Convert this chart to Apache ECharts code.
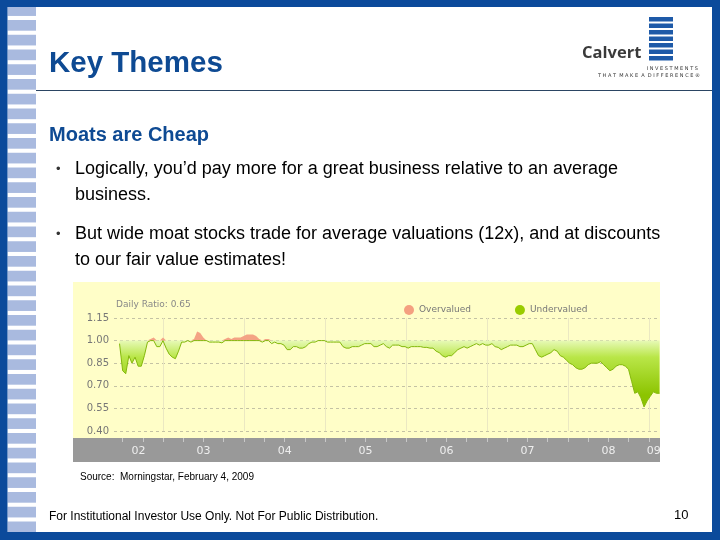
<!DOCTYPE html>
<html>
<head>
<meta charset="utf-8">
<script src="https://cdn.jsdelivr.net/npm/echarts@6/dist/echarts.min.js"></script>
<style>html,body{margin:0;padding:0;background:#fff}#c{width:720px;height:540px}</style>
</head>
<body>
<div id="c"></div>
<script>
// ---- data ----
const seriesStartUTC = Date.UTC(2002, 5, 18);   // first observation
const stepDays = 14;                            // bi-weekly readings
const ratio = [
 0.98,0.80,0.78,0.90,0.85,0.89,0.83,0.83,0.90,0.99,
 1.01,1.02,0.96,0.96,1.02,0.95,0.91,0.89,0.88,0.93,
 0.99,0.99,1.00,0.99,1.01,1.06,1.05,1.02,1.00,0.99,
 0.99,0.99,0.99,0.985,1.01,1.02,1.01,1.02,1.02,1.02,
 1.03,1.04,1.04,1.04,1.03,1.01,0.99,1.01,1.01,0.98,
 0.99,0.98,0.98,0.97,0.94,0.94,0.96,0.96,0.95,0.95,
 0.96,0.98,0.99,0.99,1.00,1.00,1.00,0.99,0.99,0.99,
 0.99,0.99,0.96,0.95,0.95,0.96,0.96,0.96,0.97,0.98,
 0.98,0.98,0.96,0.96,0.97,0.98,0.96,0.95,0.97,0.97,
 0.97,0.96,0.96,0.95,0.96,0.96,0.96,0.96,0.955,0.955,
 0.95,0.95,0.93,0.92,0.90,0.89,0.90,0.90,0.92,0.94,
 0.95,0.96,0.95,0.96,0.97,0.98,0.97,0.98,0.97,0.97,
 0.98,0.96,0.955,0.94,0.95,0.96,0.97,0.97,0.97,0.96,
 0.96,0.97,0.98,0.98,0.94,0.90,0.89,0.90,0.91,0.92,
 0.94,0.93,0.90,0.89,0.87,0.85,0.84,0.82,0.81,0.81,
 0.82,0.84,0.85,0.85,0.85,0.86,0.84,0.82,0.80,0.81,
 0.83,0.84,0.84,0.83,0.81,0.73,0.65,0.66,0.62,0.56,
 0.60,0.63,0.66,0.65,0.65
];
const yTicks = { min: 0.40, max: 1.15, step: 0.15 };
const yearLabelPos = [[2002,8,12],[2003,6,2],[2004,6,2],[2005,6,2],[2006,6,2],[2007,6,2],[2008,6,2],[2009,0,22]];
const yearBounds = [2003,2004,2005,2006,2007,2008,2009];
const axisRange = [[2002,4,24],[2009,1,19]];
const legendNames = ['Overvalued','Undervalued'];

// ---- build ----
const DAY = 86400000;
const dates = ratio.map((_, i) => seriesStartUTC + i * stepDays * DAY);
const underData = ratio.map((v, i) => [dates[i], Math.min(v, 1)]);
const underDepth = ratio.map((v, i) => [dates[i], 1 - Math.min(v, 1)]);
const overBase = ratio.map((v, i) => [dates[i], 1]);
const overHeight = ratio.map((v, i) => [dates[i], Math.max(v, 1) - 1]);
const utc = a => Date.UTC(a[0], a[1], a[2]);
const xMin = utc(axisRange[0]), xMax = utc(axisRange[1]);
const quarterTicks = [];
for (let y = 2002; y <= 2009; y++) for (let m = 0; m < 12; m += 3) {
  const t = Date.UTC(y, m, 1); if (t >= xMin && t <= xMax) quarterTicks.push(t);
}

const BLUE = '#0b4a9b';
const g = [];
for (let k = -1; k < 36; k++) {
  g.push({type:'rect', z:1, shape:{x:7.5, y:20 + k*14.75, width:28.5, height:10.7}, style:{fill:'#a9badf'}});
}
g.push({type:'rect', z:50, shape:{x:0,y:0,width:720,height:7}, style:{fill:BLUE}});
g.push({type:'rect', z:50, shape:{x:0,y:0,width:7.5,height:540}, style:{fill:BLUE}});
g.push({type:'rect', z:50, shape:{x:712,y:0,width:8,height:540}, style:{fill:BLUE}});
g.push({type:'rect', z:50, shape:{x:0,y:532,width:720,height:8}, style:{fill:BLUE}});
g.push({type:'line', z:5, shape:{x1:36,y1:90.5,x2:712,y2:90.5}, style:{stroke:'#2b4563', lineWidth:1}});
g.push({type:'text', z:5, style:{text:'Key Themes', x:49, y:64, font:'bold 29.5px "Liberation Sans", Arial, sans-serif', fill:'#0e4a93', textVerticalAlign:'middle'}});
g.push({type:'text', z:5, style:{text:'Calvert', x:582, y:53, font:'bold 16.5px "Open Sans", sans-serif', fill:'#3a3a3a', textVerticalAlign:'middle'}});
for (let k = 0; k < 7; k++) {
  g.push({type:'rect', z:5, shape:{x:649, y:17 + k*6.5, width:24, height:4.5}, style:{fill:'#1e5aa8'}});
}
g.push({type:'text', z:5, style:{text:'I N V E S T M E N T S', x:698, y:69, font:'5px "DejaVu Sans", sans-serif', fill:'#333', textAlign:'right', textVerticalAlign:'middle'}});
g.push({type:'text', z:5, style:{text:'T H A T  M A K E  A  D I F F E R E N C E ®', x:700, y:76, font:'5px "DejaVu Sans", sans-serif', fill:'#333', textAlign:'right', textVerticalAlign:'middle'}});
g.push({type:'text', z:5, style:{text:'Moats are Cheap', x:49, y:135, font:'bold 20px "Liberation Sans", Arial, sans-serif', fill:'#0e4a93', textVerticalAlign:'middle'}});
const bulletFont = '18px "Liberation Sans", Arial, sans-serif';
[169, 234].forEach(y => g.push({type:'text', z:5, style:{text:'•', x:56, y:y, font:'13px "Liberation Sans", Arial, sans-serif', fill:'#333', textVerticalAlign:'middle'}}));
[[169,'Logically, you\u2019d pay more for a great business relative to an average'],
 [195,'business.'],
 [234,'But wide moat stocks trade for average valuations (12x), and at discounts'],
 [260,'to our fair value estimates!']].forEach(l => g.push({type:'text', z:5, style:{text:l[1], x:75, y:l[0], font:bulletFont, fill:'#000', textVerticalAlign:'middle'}}));
g.push({type:'rect', z:-5, shape:{x:73,y:282,width:587,height:156}, style:{fill:'#fffec8'}});
g.push({type:'rect', z:-5, shape:{x:73,y:438,width:587,height:24}, style:{fill:'#999999'}});
g.push({type:'rect', z:40, shape:{x:660,y:280,width:52,height:190}, style:{fill:'#ffffff'}});
g.push({type:'text', z:5, style:{text:'Daily Ratio: ' + ratio[ratio.length-1].toFixed(2), x:116, y:305, font:'9px "DejaVu Sans", sans-serif', fill:'#888', textVerticalAlign:'middle'}});
g.push({type:'text', z:5, style:{text:'Source:  Morningstar, February 4, 2009', x:80, y:477, font:'10px "Liberation Sans", Arial, sans-serif', fill:'#000', textVerticalAlign:'middle'}});
g.push({type:'text', z:5, style:{text:'For Institutional Investor Use Only. Not For Public Distribution.', x:49, y:517, font:'12px "Liberation Sans", Arial, sans-serif', fill:'#000', textVerticalAlign:'middle'}});
g.push({type:'text', z:5, style:{text:'10', x:674, y:515, font:'13px "Liberation Sans", Arial, sans-serif', fill:'#000', textVerticalAlign:'middle'}});

const greenGrad = {type:'linear', x:0, y:341, x2:0, y2:395, global:true,
  colorStops:[{offset:0,color:'#e6f9b4'},{offset:0.3,color:'#b9e648'},{offset:1,color:'#8cc400'}]};

const chart = echarts.init(document.getElementById('c'), null, {renderer:'canvas'});
chart.setOption({
  animation:false,
  backgroundColor:'#ffffff',
  graphic:{elements:g},
  legend:{data:legendNames.map(n => ({name:n, icon:'circle'})), left:399, top:300, itemWidth:10, itemHeight:10, itemGap:44,
    textStyle:{color:'#777', fontSize:9, fontFamily:'DejaVu Sans'}},
  grid:{left:114, right:60, top:318, bottom:109},
  xAxis:[
    {type:'time', min:xMin, max:xMax, show:false},
    {type:'value', min:xMin, max:xMax, position:'bottom', offset:7,
      axisLine:{show:false},
      axisTick:{show:true, customValues:quarterTicks, length:4, lineStyle:{color:'#c8c8c8'}},
      axisLabel:{customValues:yearLabelPos.map(utc), margin:8, color:'#eeeeee', fontSize:11, fontFamily:'DejaVu Sans',
        formatter:v => String(new Date(v).getUTCFullYear()).slice(2)},
      splitLine:{show:false}}
  ],
  yAxis:{type:'value', min:yTicks.min, max:yTicks.max, interval:yTicks.step,
    axisLine:{show:false}, axisTick:{show:false},
    axisLabel:{color:'#777', fontSize:10, fontFamily:'DejaVu Sans', margin:5, formatter:v => v.toFixed(2)},
    splitLine:{lineStyle:{color:'#c4c2a4', type:[3,3], width:1}}},
  series:[
    {name:'base', type:'line', stack:'u', data:underData, symbol:'none', z:3, xAxisIndex:0,
      lineStyle:{color:'#84b80c', width:1},
      markLine:{silent:true, z:1, symbol:'none', label:{show:false},
        lineStyle:{color:'#ebe8c2', type:'solid', width:1},
        data:yearBounds.map(y => ({xAxis:Date.UTC(y,0,1)}))}},
    {name:'Undervalued', type:'line', stack:'u', data:underDepth, symbol:'none', z:2, xAxisIndex:0,
      itemStyle:{color:'#99cc00'}, lineStyle:{width:0}, areaStyle:{color:greenGrad, opacity:1}},
    {name:'obase', type:'line', stack:'o', data:overBase, symbol:'none', z:2, xAxisIndex:0, lineStyle:{width:0}},
    {name:'Overvalued', type:'line', stack:'o', data:overHeight, symbol:'none', z:2, xAxisIndex:0,
      itemStyle:{color:'#f4a080'}, lineStyle:{width:0}, areaStyle:{color:'#f4a384', opacity:1}}
  ]
});
</script>
</body>
</html>
